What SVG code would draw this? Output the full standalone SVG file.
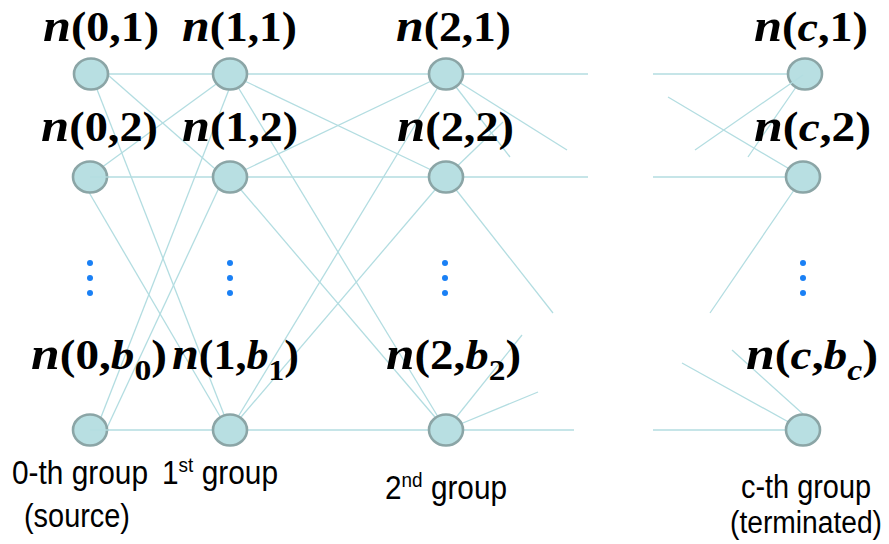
<svg xmlns="http://www.w3.org/2000/svg" width="889" height="544" viewBox="0 0 889 544">
<style>
.e{stroke:#b3dde1;stroke-width:1.3;fill:none}
.nd{fill:#b8dfe2;stroke:#8ba5a6;stroke-width:2.6}
.lb{font-family:"Liberation Serif","Times New Roman",serif;font-weight:bold;font-size:42px;fill:#000}
.it{font-style:italic}
.nn{font-style:italic;font-size:46px}
.sb{font-size:30px}
.gl{font-family:"Liberation Sans",Arial,sans-serif;font-size:33px;fill:#000}
.gs{font-family:"Liberation Sans",Arial,sans-serif;font-size:31px;fill:#000}
.sp{font-size:21px}
.dot{fill:#1a80f5}
</style>
<rect width="889" height="544" fill="#fff"/>
<g id="connectors">
<line class="e" x1="91" y1="74" x2="588" y2="74"/>
<line class="e" x1="90" y1="177" x2="588" y2="177"/>
<line class="e" x1="90" y1="430" x2="574" y2="430"/>
<line class="e" x1="653" y1="74" x2="805" y2="74"/>
<line class="e" x1="653" y1="177" x2="803" y2="177"/>
<line class="e" x1="653" y1="430" x2="803" y2="430"/>
<line class="e" x1="108" y1="75" x2="214" y2="168"/>
<line class="e" x1="91" y1="74" x2="230" y2="430"/>
<line class="e" x1="90" y1="176" x2="230" y2="74"/>
<line class="e" x1="80" y1="177" x2="228" y2="430"/>
<line class="e" x1="96" y1="430" x2="235" y2="74"/>
<line class="e" x1="106" y1="430" x2="224" y2="177"/>
<line class="e" x1="230" y1="74" x2="446" y2="177"/>
<line class="e" x1="230" y1="74" x2="446" y2="430"/>
<line class="e" x1="230" y1="177" x2="446" y2="74"/>
<line class="e" x1="230" y1="177" x2="446" y2="430"/>
<line class="e" x1="230" y1="430" x2="446" y2="74"/>
<line class="e" x1="230" y1="430" x2="446" y2="177"/>
<line class="e" x1="446" y1="74" x2="567" y2="150"/>
<line class="e" x1="446" y1="74" x2="510" y2="157"/>
<line class="e" x1="446" y1="177" x2="503" y2="122"/>
<line class="e" x1="446" y1="177" x2="553" y2="313"/>
<line class="e" x1="446" y1="430" x2="522" y2="335"/>
<line class="e" x1="446" y1="430" x2="538" y2="392"/>
<line class="e" x1="668" y1="97" x2="803" y2="177"/>
<line class="e" x1="748" y1="157" x2="805" y2="74"/>
<line class="e" x1="803" y1="177" x2="710" y2="313"/>
<line class="e" x1="732" y1="350" x2="803" y2="414"/>
<line class="e" x1="682" y1="363" x2="803" y2="430"/>
</g>
<g id="n0-1"><ellipse class="nd" cx="91" cy="74" rx="17" ry="15.5"/><text class="lb" x="43" y="41" textLength="116" lengthAdjust="spacingAndGlyphs"><tspan class="nn">n</tspan>(0,1)</text></g>
<g id="n1-1"><ellipse class="nd" cx="230" cy="74" rx="17" ry="15.5"/><text class="lb" x="182" y="41" textLength="115" lengthAdjust="spacingAndGlyphs"><tspan class="nn">n</tspan>(1,1)</text></g>
<g id="n2-1"><ellipse class="nd" cx="446" cy="74" rx="17" ry="15.5"/><text class="lb" x="396" y="41" textLength="115" lengthAdjust="spacingAndGlyphs"><tspan class="nn">n</tspan>(2,1)</text></g>
<g id="nc-1"><ellipse class="nd" cx="805" cy="74" rx="17" ry="15.5"/><text class="lb" x="754" y="41" textLength="114" lengthAdjust="spacingAndGlyphs"><tspan class="nn">n</tspan>(<tspan class="it">c</tspan>,1)</text></g>
<g id="n0-2"><ellipse class="nd" cx="90" cy="177" rx="17" ry="15.5"/><text class="lb" x="41" y="141" textLength="117" lengthAdjust="spacingAndGlyphs"><tspan class="nn">n</tspan>(0,2)</text></g>
<g id="n1-2"><ellipse class="nd" cx="230" cy="177" rx="17" ry="15.5"/><text class="lb" x="182" y="141" textLength="116" lengthAdjust="spacingAndGlyphs"><tspan class="nn">n</tspan>(1,2)</text></g>
<g id="n2-2"><ellipse class="nd" cx="446" cy="177" rx="17" ry="15.5"/><text class="lb" x="397" y="141" textLength="117" lengthAdjust="spacingAndGlyphs"><tspan class="nn">n</tspan>(2,2)</text></g>
<g id="nc-2"><ellipse class="nd" cx="803" cy="177" rx="17" ry="15.5"/><text class="lb" x="754" y="141" textLength="117" lengthAdjust="spacingAndGlyphs"><tspan class="nn">n</tspan>(<tspan class="it">c</tspan>,2)</text></g>
<g id="n0-b"><ellipse class="nd" cx="90" cy="430" rx="17" ry="15.5"/><text class="lb" x="31" y="369" textLength="136" lengthAdjust="spacingAndGlyphs"><tspan class="nn">n</tspan>(0,<tspan class="it">b</tspan><tspan class="sb" dy="11">0</tspan><tspan dy="-11">)</tspan></text></g>
<g id="n1-b"><ellipse class="nd" cx="230" cy="430" rx="17" ry="15.5"/><text class="lb" x="172" y="369" textLength="127" lengthAdjust="spacingAndGlyphs"><tspan class="nn">n</tspan>(1,<tspan class="it">b</tspan><tspan class="sb" dy="11">1</tspan><tspan dy="-11">)</tspan></text></g>
<g id="n2-b"><ellipse class="nd" cx="446" cy="430" rx="17" ry="15.5"/><text class="lb" x="386" y="369" textLength="135" lengthAdjust="spacingAndGlyphs"><tspan class="nn">n</tspan>(2,<tspan class="it">b</tspan><tspan class="sb" dy="11">2</tspan><tspan dy="-11">)</tspan></text></g>
<g id="nc-b"><ellipse class="nd" cx="803" cy="430" rx="17" ry="15.5"/><text class="lb" x="746" y="369" textLength="132" lengthAdjust="spacingAndGlyphs"><tspan class="nn">n</tspan>(<tspan class="it">c</tspan>,<tspan class="it">b</tspan><tspan class="sb it" dy="11">c</tspan><tspan dy="-11">)</tspan></text></g>
<g id="connectors-over">
<line class="e" x1="90" y1="177" x2="108" y2="177"/>
<line class="e" x1="90" y1="430" x2="108" y2="430"/>
<line class="e" x1="695" y1="150" x2="803" y2="75"/>
</g>
<g id="ellipsis">
<circle class="dot" cx="90" cy="263" r="3"/><circle class="dot" cx="90" cy="278" r="3"/><circle class="dot" cx="90" cy="293" r="3"/>
<circle class="dot" cx="230" cy="263" r="3"/><circle class="dot" cx="230" cy="278" r="3"/><circle class="dot" cx="230" cy="293" r="3"/>
<circle class="dot" cx="445" cy="263" r="3"/><circle class="dot" cx="445" cy="278" r="3"/><circle class="dot" cx="445" cy="293" r="3"/>
<circle class="dot" cx="803" cy="263" r="3"/><circle class="dot" cx="803" cy="278" r="3"/><circle class="dot" cx="803" cy="293" r="3"/>
</g>
<g id="group-labels">
<text class="gl" x="12" y="484" textLength="136" lengthAdjust="spacingAndGlyphs">0-th group</text>
<text class="gl" x="24" y="527" textLength="106" lengthAdjust="spacingAndGlyphs">(source)</text>
<text class="gl" x="162" y="484" textLength="116" lengthAdjust="spacingAndGlyphs">1<tspan class="sp" dy="-12">st</tspan><tspan dy="12"> group</tspan></text>
<text class="gl" x="385" y="499" textLength="122" lengthAdjust="spacingAndGlyphs">2<tspan class="sp" dy="-12">nd</tspan><tspan dy="12"> group</tspan></text>
<text class="gl" x="741" y="498" textLength="130" lengthAdjust="spacingAndGlyphs">c-th group</text>
<text class="gs" x="730" y="533" textLength="152" lengthAdjust="spacingAndGlyphs">(terminated)</text>
</g>
</svg>
